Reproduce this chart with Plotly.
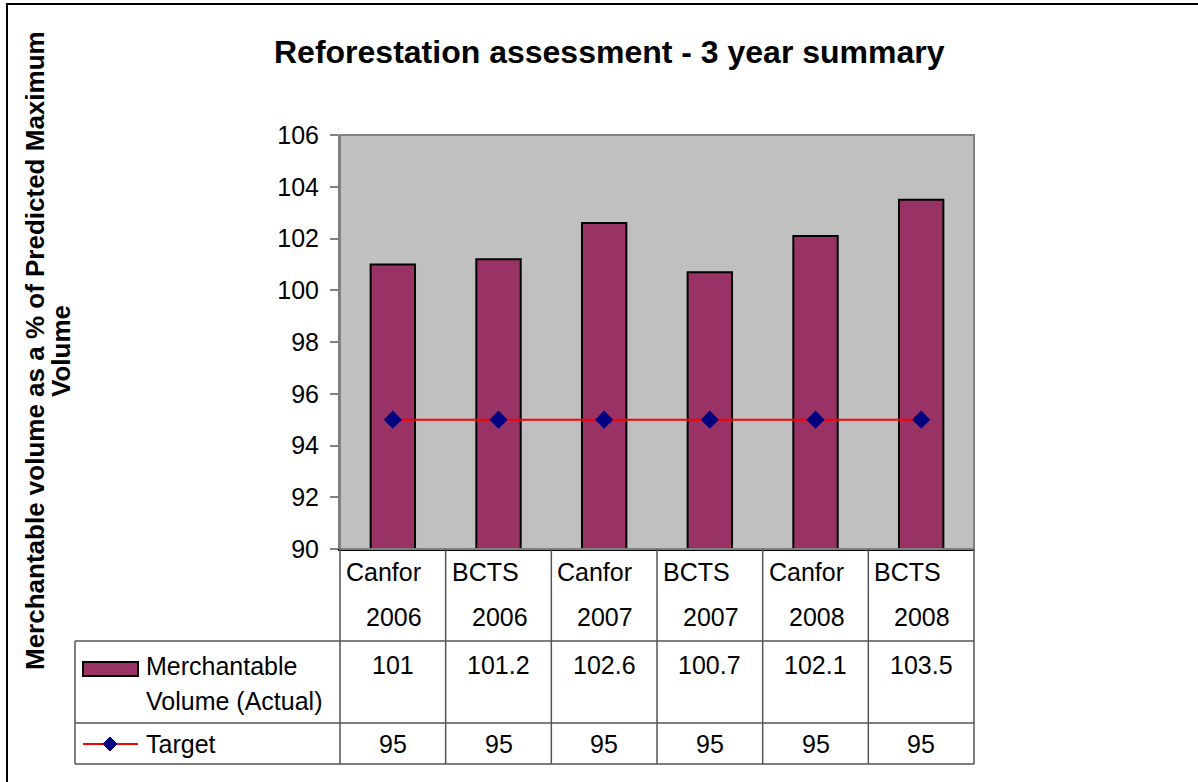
import plotly.graph_objects as go

# ---- data ----
companies = ["Canfor", "BCTS", "Canfor", "BCTS", "Canfor", "BCTS"]
years = ["2006", "2006", "2007", "2007", "2008", "2008"]
merch_volume = [101, 101.2, 102.6, 100.7, 102.1, 103.5]
target = [95, 95, 95, 95, 95, 95]
y_ticks = [90, 92, 94, 96, 98, 100, 102, 104, 106]
series_names = ["Merchantable<br>Volume (Actual)", "Target"]
title_text = "Reforestation assessment - 3 year summary"
ytitle_line1 = "Merchantable volume as a % of Predicted Maximum"
ytitle_line2 = "Volume"

categories = [f"{c} {y}" for c, y in zip(companies, years)]

# ---- layout geometry (pixels) ----
W, H = 1198, 782
PL, PR, PT, PB = 340, 974, 135, 549
CW = (PR - PL) / len(categories)
FONT = "Liberation Sans, Arial, sans-serif"
BAR_COLOR = "#993366"


def X(px):
    return (px - PL) / (PR - PL)


def Y(py):
    return (PB - py) / (PB - PT)


fig = go.Figure()
fig.add_trace(go.Bar(
    x=categories, y=merch_volume, width=0.42,
    marker=dict(color=BAR_COLOR, line=dict(color="black", width=2)),
    showlegend=False,
))
fig.add_trace(go.Scatter(
    x=categories, y=target, mode="lines+markers",
    line=dict(color="red", width=2),
    marker=dict(symbol="diamond", size=14, color="#000080"),
    showlegend=False,
))

shapes = []
# plot border
shapes.append(dict(type="rect", xref="paper", yref="paper", x0=0, x1=1, y0=0, y1=1,
                   line=dict(color="#808080", width=2), layer="above"))
# outer frame
shapes.append(dict(type="rect", xref="paper", yref="paper", x0=X(7), x1=X(1210), y0=Y(4), y1=Y(795),
                   line=dict(color="black", width=2)))
# table lines
grey = dict(color="#555555", width=1.5)
for i in range(len(categories) + 1):
    xp = PL + i * CW
    shapes.append(dict(type="line", xref="paper", yref="paper", x0=X(xp), x1=X(xp),
                       y0=Y(PB), y1=Y(764), line=grey))
for yp in (641, 723, 764):
    shapes.append(dict(type="line", xref="paper", yref="paper", x0=X(75), x1=X(PR),
                       y0=Y(yp), y1=Y(yp), line=grey))
shapes.append(dict(type="line", xref="paper", yref="paper", x0=X(75), x1=X(75),
                   y0=Y(641), y1=Y(764), line=grey))
# legend keys
shapes.append(dict(type="rect", xref="paper", yref="paper", x0=X(83), x1=X(138),
                   y0=Y(662), y1=Y(676), fillcolor=BAR_COLOR, line=dict(color="black", width=2)))
shapes.append(dict(type="line", xref="paper", yref="paper", x0=X(83), x1=X(138),
                   y0=Y(744), y1=Y(744), line=dict(color="red", width=2)))
cx, cy, r = 110, 744, 7
path = f"M {X(cx-r)} {Y(cy)} L {X(cx)} {Y(cy-r)} L {X(cx+r)} {Y(cy)} L {X(cx)} {Y(cy+r)} Z"
shapes.append(dict(type="path", xref="paper", yref="paper", path=path,
                   fillcolor="#000080", line=dict(color="#000080", width=1)))

ann = []
tf = dict(family=FONT, size=25, color="black")
for i, (c, yr) in enumerate(zip(companies, years)):
    left = PL + i * CW
    mid = left + CW / 2
    ann.append(dict(text=c, x=X(left + 4), y=Y(572), xref="paper", yref="paper",
                    xanchor="left", yanchor="middle", showarrow=False, font=tf))
    ann.append(dict(text=yr, x=X(mid + 1), y=Y(617), xref="paper", yref="paper",
                    xanchor="center", yanchor="middle", showarrow=False, font=tf))
    ann.append(dict(text=f"{merch_volume[i]:g}", x=X(mid), y=Y(665), xref="paper", yref="paper",
                    xanchor="center", yanchor="middle", showarrow=False, font=tf))
    ann.append(dict(text=f"{target[i]:g}", x=X(mid), y=Y(744), xref="paper", yref="paper",
                    xanchor="center", yanchor="middle", showarrow=False, font=tf))
name_lines = series_names[0].split("<br>")
ann.append(dict(text=name_lines[0], x=X(144), y=Y(666), xref="paper", yref="paper",
                xanchor="left", yanchor="middle", showarrow=False, font=tf))
ann.append(dict(text=name_lines[1], x=X(144), y=Y(701), xref="paper", yref="paper",
                xanchor="left", yanchor="middle", showarrow=False, font=tf))
ann.append(dict(text=series_names[1], x=X(144), y=Y(744), xref="paper", yref="paper",
                xanchor="left", yanchor="middle", showarrow=False, font=tf))
# title
ann.append(dict(text=f"<b>{title_text}</b>", x=X(609), y=Y(52), xref="paper", yref="paper",
                xanchor="center", yanchor="middle", showarrow=False,
                font=dict(family=FONT, size=32, color="black")))
# y-axis title (two lines)
yf = dict(family=FONT, size=26, color="black")
ann.append(dict(text=f"<b>{ytitle_line1}</b>", x=X(35), y=Y(351), xref="paper", yref="paper",
                xanchor="center", yanchor="middle", textangle=-90, showarrow=False, font=yf))
ann.append(dict(text=f"<b>{ytitle_line2}</b>", x=X(61), y=Y(351), xref="paper", yref="paper",
                xanchor="center", yanchor="middle", textangle=-90, showarrow=False, font=yf))

fig.update_layout(
    width=W, height=H,
    margin=dict(l=PL, r=W - PR, t=PT, b=H - PB),
    paper_bgcolor="white", plot_bgcolor="#C0C0C0",
    shapes=shapes, annotations=ann,
    bargap=0.58,
    xaxis=dict(type="category", showticklabels=False, ticks="", showgrid=False,
               showline=True, linecolor="black", linewidth=2, zeroline=False, fixedrange=True),
    yaxis=dict(range=[90, 106], tickvals=y_ticks, ticks="outside", ticklen=8, tickwidth=2,
               tickcolor="#808080", showline=True, linecolor="#808080", linewidth=2,
               showgrid=False, zeroline=False, ticklabelstandoff=6,
               tickfont=dict(family=FONT, size=25, color="black"), fixedrange=True),
    showlegend=False,
)

fig.write_html("out.html")
